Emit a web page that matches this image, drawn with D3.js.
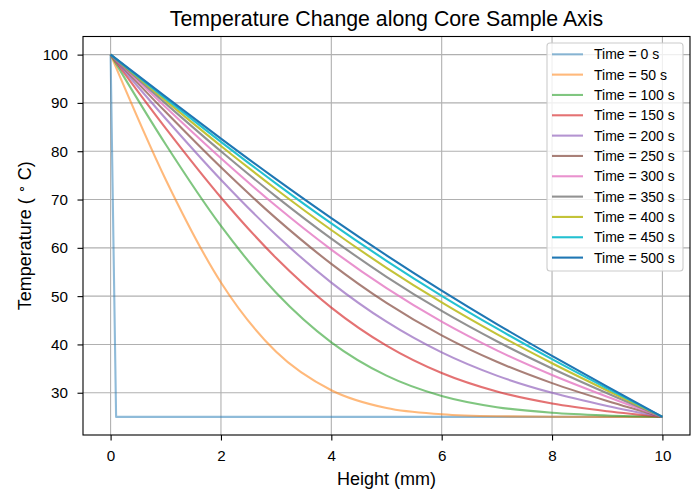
<!DOCTYPE html>
<html>
<head>
<meta charset="utf-8">
<script src="https://cdn.jsdelivr.net/npm/d3@7"></script>
<style>
  body { margin: 0; background: #fff; }
  svg { font-family: "Liberation Sans", Arial, sans-serif; }
  .axis path, .axis line { stroke: #000; stroke-width: 1.1; }
  .axis text { font-size: 15.2px; fill: #000; font-family: "Liberation Sans", Arial, sans-serif; }
</style>
</head>
<body>
<div id="chart"></div>
<script>
// heights along the core (mm)
const heights = [0, 1, 2, 3, 4, 5, 6, 7, 8, 9, 10];

// time 0 profile is a step, sampled separately
const t0Heights = [0, 0.1, 10];
const t0Temps = [100, 25, 25];

// temperature profiles (deg C)
const t50 = [100, 74.11, 52.83, 38.48, 30.52, 26.83, 25.55, 25.13, 25.03, 25.0, 25];
const t100 = [100, 81.39, 64.53, 50.71, 40.44, 33.54, 29.33, 27.01, 25.85, 25.29, 25];
const t150 = [100, 84.72, 70.42, 57.89, 47.62, 39.74, 34.07, 30.24, 27.77, 26.17, 25];
const t200 = [100, 86.73, 74.10, 62.66, 52.81, 44.71, 38.35, 33.54, 29.98, 27.27, 25];
const t250 = [100, 88.10, 76.66, 66.09, 56.68, 48.60, 41.88, 36.41, 31.99, 28.30, 25];
const t300 = [100, 89.11, 78.55, 68.65, 59.63, 51.64, 44.71, 38.77, 33.68, 29.18, 25];
const t350 = [100, 89.86, 79.99, 70.61, 61.91, 54.01, 46.94, 40.66, 35.03, 29.89, 25];
const t400 = [100, 90.45, 81.09, 72.13, 63.69, 55.87, 48.70, 42.14, 36.11, 30.46, 25];
const t450 = [100, 90.90, 81.95, 73.31, 65.07, 57.32, 50.07, 43.31, 36.95, 30.90, 25];
const t500 = [100, 91.25, 82.62, 74.22, 66.15, 58.45, 51.15, 44.22, 37.62, 31.25, 25];

const times = [0, 50, 100, 150, 200, 250, 300, 350, 400, 450, 500];
const xTicks = [0, 2, 4, 6, 8, 10];
const yTicks = [30, 40, 50, 60, 70, 80, 90, 100];

const colors = ['#1f77b4', '#ff7f0e', '#2ca02c', '#d62728', '#9467bd', '#8c564b',
                '#e377c2', '#7f7f7f', '#bcbd22', '#17becf', '#1f77b4'];

const series = [
  { time: 0, xs: t0Heights, ys: t0Temps },
  { time: 50, xs: heights, ys: t50 },
  { time: 100, xs: heights, ys: t100 },
  { time: 150, xs: heights, ys: t150 },
  { time: 200, xs: heights, ys: t200 },
  { time: 250, xs: heights, ys: t250 },
  { time: 300, xs: heights, ys: t300 },
  { time: 350, xs: heights, ys: t350 },
  { time: 400, xs: heights, ys: t400 },
  { time: 450, xs: heights, ys: t450 },
  { time: 500, xs: heights, ys: t500 }
];

const W = 699, H = 489;
const m = { left: 83, right: 690, top: 36.5, bottom: 435 };

const svg = d3.select('#chart').append('svg')
  .attr('width', W).attr('height', H);

const x = d3.scaleLinear().domain([-0.5, 10.5]).range([m.left, m.right]);
const y = d3.scaleLinear().domain([21.25, 103.75]).range([m.bottom, m.top]);

// grid
const grid = svg.append('g');
grid.selectAll('.gx').data(xTicks).enter().append('line')
  .attr('x1', d => x(d)).attr('x2', d => x(d))
  .attr('y1', m.top).attr('y2', m.bottom)
  .attr('stroke', '#b0b0b0').attr('stroke-width', 1.1);
grid.selectAll('.gy').data(yTicks).enter().append('line')
  .attr('x1', m.left).attr('x2', m.right)
  .attr('y1', d => y(d)).attr('y2', d => y(d))
  .attr('stroke', '#b0b0b0').attr('stroke-width', 1.1);

// lines
const line = d3.line().curve(d3.curveMonotoneX);
const lineStraight = d3.line();

svg.append('g').selectAll('path')
  .data(series)
  .enter()
  .append('path')
  .attr('d', (d, i) => {
    const pts = d.xs.map((v, k) => [x(v), y(d.ys[k])]);
    return i === 0 ? lineStraight(pts) : line(pts);
  })
  .attr('fill', 'none')
  .attr('stroke', (d, i) => colors[i])
  .attr('stroke-opacity', (d, i) => 0.5 + 0.05 * i)
  .attr('stroke-width', 2.1)
  .attr('stroke-linejoin', 'round');

// axes
svg.append('g')
  .attr('class', 'axis')
  .attr('transform', `translate(0,${m.bottom})`)
  .call(d3.axisBottom(x).tickValues(xTicks).tickFormat(d3.format('d')).tickSizeOuter(0).tickSize(5.5).tickPadding(10.2));

svg.append('g')
  .attr('class', 'axis')
  .attr('transform', `translate(${m.left},0)`)
  .call(d3.axisLeft(y).tickValues(yTicks).tickFormat(d3.format('d')).tickSizeOuter(0).tickSize(5.5).tickPadding(9.5));

svg.selectAll('.axis .domain').remove();

// frame
svg.append('rect')
  .attr('x', m.left).attr('y', m.top)
  .attr('width', m.right - m.left).attr('height', m.bottom - m.top)
  .attr('fill', 'none').attr('stroke', '#000').attr('stroke-width', 1.1);

// title and labels
svg.append('text')
  .attr('x', (m.left + m.right) / 2).attr('y', 26)
  .attr('text-anchor', 'middle')
  .style('font-size', '21.3px')
  .text('Temperature Change along Core Sample Axis');

svg.append('text')
  .attr('x', (m.left + m.right) / 2).attr('y', 485)
  .attr('text-anchor', 'middle')
  .style('font-size', '18px')
  .text('Height (mm)');

const yl = svg.append('text')
  .attr('transform', `translate(31,${(m.top + m.bottom) / 2}) rotate(-90)`)
  .attr('text-anchor', 'middle')
  .style('font-size', '18px');
yl.append('tspan').text('Temperature ( ');
yl.append('tspan').attr('dy', -6).style('font-size', '13px').text('∘');
yl.append('tspan').attr('dy', 6).text(' C)');

// legend
const lg = svg.append('g');
lg.append('rect')
  .attr('x', 547).attr('y', 43)
  .attr('width', 136).attr('height', 228)
  .attr('rx', 3)
  .attr('fill', 'rgba(255,255,255,0.8)')
  .attr('stroke', '#cccccc').attr('stroke-width', 1.1);

const rows = lg.selectAll('.row')
  .data(times)
  .enter()
  .append('g')
  .attr('transform', (d, i) => `translate(0,${54.3 + i * 20.33})`);

rows.append('line')
  .attr('x1', 552).attr('x2', 583)
  .attr('stroke', (d, i) => colors[i])
  .attr('stroke-opacity', (d, i) => 0.5 + 0.05 * i)
  .attr('stroke-width', 2.1);

rows.append('text')
  .attr('x', 594).attr('y', 5)
  .style('font-size', '14px')
  .text(d => `Time = ${d} s`);
</script>
</body>
</html>
